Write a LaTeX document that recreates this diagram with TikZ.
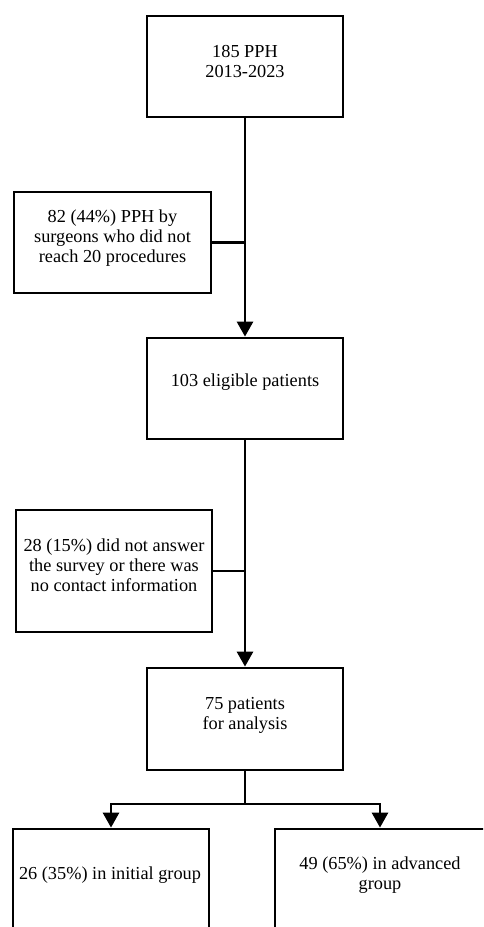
\documentclass[tikz,border=0pt]{standalone}
\usepackage{fontspec}
\setmainfont{Liberation Serif}
\usetikzlibrary{arrows.meta}
\begin{document}
\begin{tikzpicture}[x=1pt,y=-1pt,
  box/.style={draw,line width=2.8pt,inner sep=0pt,minimum width=196pt},
  txt/.style={align=center,inner sep=0pt,font=\fontsize{18.3}{20}\selectfont},
  conn/.style={line width=2.8pt},
  arr/.style={line width=2.8pt,-{Triangle[width=16pt,length=15pt]}}]
\clip (0,0) rectangle (483,927);
\fill[white] (0,0) rectangle (483,927);
% main boxes
\node[box,minimum height=101pt] (b1) at (245,66.5) {};
\node[txt] (t1) at (245,62) {185 PPH\\2013-2023};
\node[box,minimum height=101pt] (b2) at (245,388.5) {};
\node[txt] (t2) at (245,382) {103 eligible patients};
\node[box,minimum height=102pt] (b3) at (245,719) {};
\node[txt] (t3) at (245,715) {75 patients\\for analysis};
% side boxes
\node[box,minimum width=197pt,minimum height=101pt] (s1) at (112.5,242.5) {};
\node[txt] (ts1) at (112.5,238) {82 (44\%) PPH by\\surgeons who did not\\reach 20 procedures};
\node[box,minimum height=122pt] (s2) at (114,571) {};
\node[txt] (ts2) at (114,565) {28 (15\%) did not answer\\the survey or there was\\no contact information};
% bottom boxes
\node[box,minimum height=160pt] (g1) at (111,909) {};
\node[txt] (tg1) at (110,875) {26 (35\%) in initial group};
\node[box,minimum width=210pt,minimum height=160pt] (g2) at (380,909) {};
\node[txt] (tg2) at (380,875) {49 (65\%) in advanced\\group};
% connectors
\draw[arr] (b1.south) -- (b2.north);
\draw[conn] (s1.east) -- (s1.east -| b1.south);
\draw[arr] (b2.south) -- (b3.north);
\draw[conn] (s2.east) -- (s2.east -| b2.south);
\coordinate (split) at (245,804);
\draw[conn] (b3.south) -- (split);
\draw[arr] (split) -| (g1.north);
\draw[arr] (split) -| (g2.north);
\end{tikzpicture}
\end{document}
